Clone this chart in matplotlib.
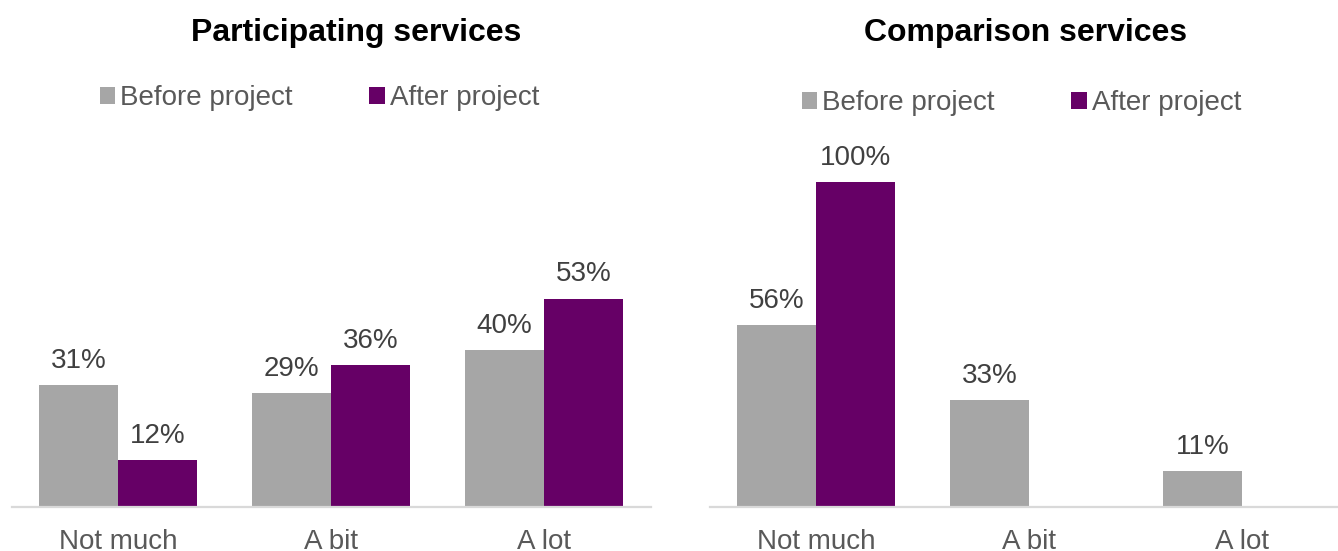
import matplotlib
matplotlib.use("Agg")
import matplotlib.pyplot as plt
import numpy as np

plt.rcParams['font.family'] = ['Liberation Sans', 'DejaVu Sans']

categories = ["Not much", "A bit", "A lot"]
series_names = ["Before project", "After project"]

participating_before = [31, 29, 40]
participating_after = [12, 36, 53]

comparison_before = [56, 33, 11]
comparison_after = [100, None, None]

GRAY = "#A6A6A6"
PURPLE = "#660066"
TEXT = "#595959"
LABEL = "#404040"
AXIS = "#D9D9D9"

W, H = 1338, 551
fig = plt.figure(figsize=(W / 100, H / 100), dpi=100)


def px_axes(x0, x1, y_bottom, y_top):
    return fig.add_axes([x0 / W, (H - y_bottom) / H, (x1 - x0) / W, (y_bottom - y_top) / H])


def draw_panel(ax, before, after, ymax, xmax, title, title_x, legend_center):
    x = np.arange(len(categories))
    bw = 0.37
    b1 = ax.bar(x - bw / 2, before, bw, color=GRAY, label=series_names[0])
    after_vals = [v if v is not None else 0 for v in after]
    b2 = ax.bar(x + bw / 2, after_vals, bw, color=PURPLE, label=series_names[1])
    for rects, vals in ((b1, before), (b2, after)):
        for r, v in zip(rects, vals):
            if v is None:
                continue
            ax.annotate(f"{v}%", (r.get_x() + r.get_width() / 2, r.get_height()),
                        xytext=(0, 8), textcoords="offset points",
                        ha="center", va="bottom", fontsize=20, color=LABEL,
                        annotation_clip=False)
    ax.set_xlim(-0.5, xmax)
    ax.set_ylim(0, ymax)
    ax.set_xticks(x)
    ax.set_xticklabels(categories, fontsize=20, color=TEXT)
    ax.tick_params(axis="x", length=0, pad=16)
    ax.set_yticks([])
    for s in ("top", "left", "right"):
        ax.spines[s].set_visible(False)
    ax.spines["bottom"].set_color(AXIS)
    ax.spines["bottom"].set_linewidth(1.6)
    fig.text(title_x / W, 1 - 33 / H, title, ha="center", va="center",
             fontsize=23, fontweight="bold", color="black")
    leg = ax.legend(ncol=2, loc="center",
                    bbox_to_anchor=(legend_center[0] / W, 1 - legend_center[1] / H),
                    bbox_transform=fig.transFigure, frameon=False, fontsize=20,
                    handlelength=0.55, handleheight=0.55, handletextpad=0.2,
                    columnspacing=2.75, borderaxespad=0, borderpad=0)
    for t in leg.get_texts():
        t.set_color(TEXT)


ax1 = px_axes(11.5, 650.5, 507, 271)
draw_panel(ax1, participating_before, participating_after, 60, 2.5,
           "Participating services", 356.5, (319.5, 98))

ax2 = px_axes(709.5, 1338, 507, 117)
draw_panel(ax2, comparison_before, comparison_after, 120, 2.5 - 10.5 / 213,
           "Comparison services", 1025.5, (1021.5, 103))

fig.savefig("out.png", dpi=100)
